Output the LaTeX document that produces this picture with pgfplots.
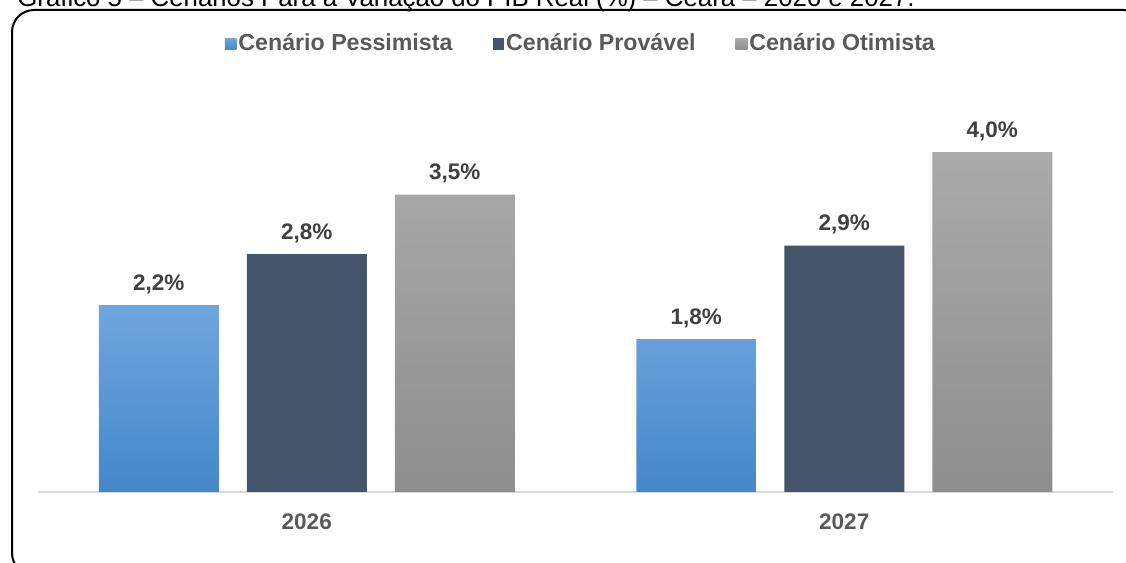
\documentclass[border=0pt]{standalone}
\usepackage{pgfplots}
\pgfplotsset{compat=1.18}
\usepackage{fontspec}
\setmainfont{Liberation Sans}
\definecolor{pessTop}{HTML}{70A6DD}
\definecolor{pessBot}{HTML}{4487CA}
\definecolor{prov}{HTML}{44546A}
\definecolor{otiTop}{HTML}{AAAAAA}
\definecolor{otiBot}{HTML}{8E8E8E}
\definecolor{lblgray}{HTML}{404040}
\definecolor{txtgray}{HTML}{595959}
\definecolor{basegray}{HTML}{D9D9D9}
\begin{document}
\begin{tikzpicture}
\path[use as bounding box] (0pt,0pt) rectangle (563pt,281.5pt);
\clip (0pt,0pt) rectangle (563pt,281.5pt);
% cut-off caption above the frame
\node[anchor=base west, inner sep=0pt, font=\fontsize{12.9}{15}\selectfont, text=black]
  at (8.5pt,278pt) {Gráfico 5 – Cenários Para a Variação do PIB Real (\%) – Ceará – 2026 e 2027.};
% rounded frame
\draw[line width=1pt, rounded corners=11pt] (6pt,276.5pt) rectangle (572.5pt,-6pt);
\begin{axis}[
  at={(19pt,35.5pt)}, anchor=south west,
  scale only axis, width=537.5pt, height=196pt,
  xmin=-0.5, xmax=1.5, ymin=0, ymax=4.612,
  ybar, bar width=60pt,
  axis x line=bottom, axis y line=none,
  x axis line style={-, draw=basegray, line width=1pt},
  xtick={0,1}, xticklabels={2026,2027},
  xtick style={draw=none}, ytick=\empty,
  xticklabel style={font=\fontsize{11.25}{13}\selectfont\bfseries, text=txtgray, yshift=-5pt},
  /pgf/number format/assume math mode=true,
  nodes near coords={\pgfmathprintnumber[use comma, fixed, fixed zerofill, precision=1]{\pgfplotspointmeta}\%},
  every node near coord/.append style={font=\fontsize{11.25}{13}\selectfont\bfseries, text=lblgray, yshift=2pt},
  legend columns=3,
  legend style={at={(0.505,1.143)}, anchor=center, draw=none, fill=none,
    font=\fontsize{11.6}{13}\selectfont\bfseries, text=txtgray,
    /tikz/every even column/.append style={column sep=19pt},
    nodes={inner sep=1pt}},
  legend image code/.code={\fill[#1] (0pt,-2.9pt) rectangle (5.8pt,2.9pt);},
  clip=false,
]
\addplot[draw=none, top color=pessTop, bottom color=pessBot, bar shift=-74pt] coordinates {(0,2.2) (1,1.8)};
\addplot[draw=none, fill=prov, bar shift=0pt] coordinates {(0,2.8) (1,2.9)};
\addplot[draw=none, top color=otiTop, bottom color=otiBot, bar shift=74pt] coordinates {(0,3.5) (1,4.0)};
\legend{Cenário Pessimista, Cenário Provável, Cenário Otimista}
\end{axis}
\end{tikzpicture}
\end{document}
